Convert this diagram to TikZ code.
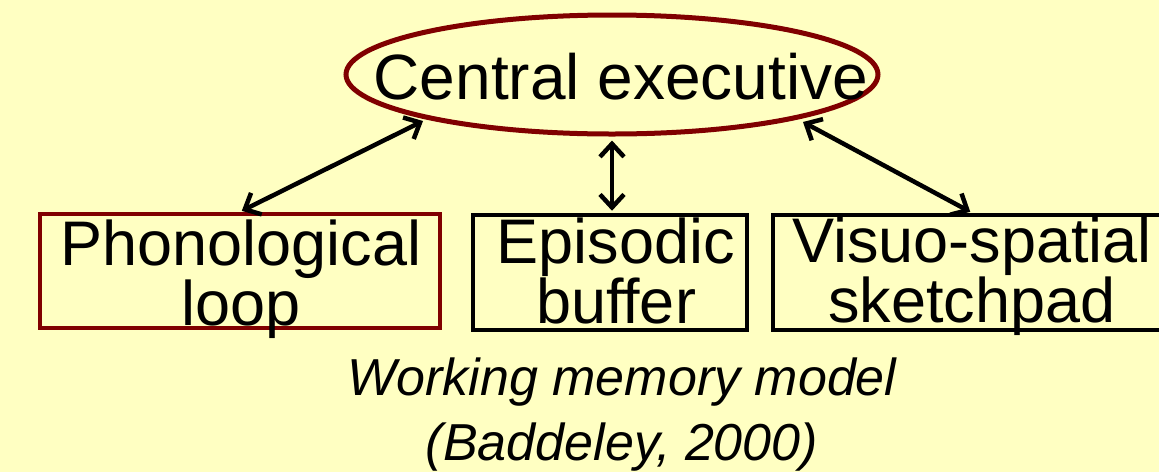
\documentclass[tikz,border=0pt]{standalone}
\usepackage{fontspec}
\setmainfont{Liberation Sans}
\usetikzlibrary{shapes.geometric,arrows.meta,calc}
\definecolor{paper}{RGB}{255,255,194}
\definecolor{maroon}{RGB}{128,0,0}
\begin{document}
\begin{tikzpicture}[x=1pt,y=-1pt,
  frame/.style={draw,line width=4.5pt,rectangle,inner sep=0pt},
  label/.style={inner sep=0pt,anchor=base,align=center,font=\fontsize{63}{51}\selectfont},
  link/.style={line width=4.5pt,{Straight Barb[length=13pt,width=24pt]}-{Straight Barb[length=13pt,width=24pt]}},
]
  % page and background
  \fill[paper] (0,0) rectangle (1159,472);
  \useasboundingbox (0,0) rectangle (1159,472);
  \clip (0,0) rectangle (1159,472);

  % central executive
  \node[draw=maroon,line width=5pt,ellipse,minimum width=532pt,minimum height=119pt,inner sep=0pt] (ce) at (612,74.5) {};
  \node[inner sep=0pt,anchor=base,font=\fontsize{64}{64}\selectfont] (cetext) at (621,99) {Central executive};

  % slave systems
  \node[frame,draw=maroon,minimum width=400pt,minimum height=114pt] (pl) at (240,271) {};
  \node[frame,minimum width=274pt,minimum height=115pt] (eb) at (610,272.5) {};
  \node[frame,minimum width=398pt,minimum height=115pt] (vs) at (972,272.5) {};

  % multi-line labels sit on the baseline of their last line
  \node[label] (pltext) at (241,325) {Phonological\\loop};
  \node[label] (ebtext) at (616,323) {Episodic\\buffer};
  \node[label] (vstext) at (972,322) {Visuo-spatial\\sketchpad};

  % links
  \draw[link,shorten >=2pt] ([shift={(-189,46.5)}]ce.center) -- (pl.north);
  \draw[link,shorten <=4pt,shorten >=2pt] (ce.south) -- (ce.south |- eb.north);
  \draw[link,shorten >=2pt] ([shift={(191,47.5)}]ce.center) -- (vs.north);

  % caption
  \node[inner sep=0pt,anchor=base,align=center,font=\fontsize{52}{65}\selectfont\itshape] (caption) at (622,460)
    {Working memory model\\(Baddeley, 2000)};
\end{tikzpicture}
\end{document}
